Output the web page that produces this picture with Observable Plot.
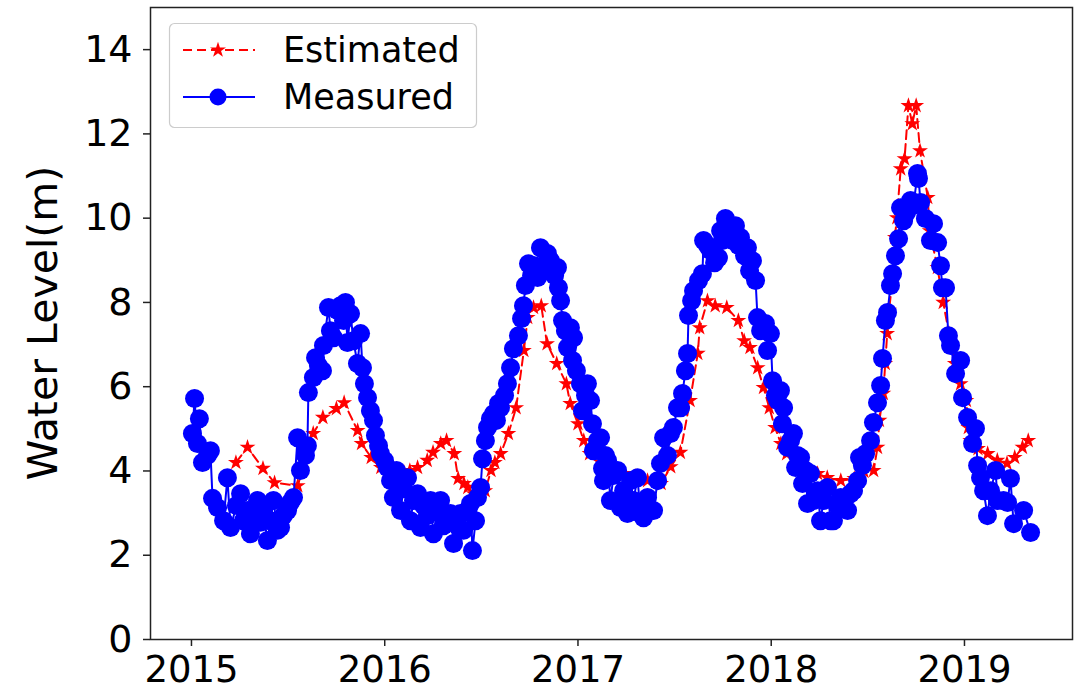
<!DOCTYPE html>
<html><head><meta charset="utf-8">
<script src="https://cdn.jsdelivr.net/npm/d3@7"></script>
<script src="https://cdn.jsdelivr.net/npm/@observablehq/plot@0.6"></script>
<style>html,body{margin:0;padding:0;background:#fff;}</style>
</head><body><div id="chart"></div>
<script>
const seriesNames = ["Estimated", "Measured"];
const yLabel = "Water Level(m)";
const xTicks = [2015, 2016, 2017, 2018, 2019];
const yTicks = [0, 2, 4, 6, 8, 10, 12, 14];

const estYears = [
2015.23,2015.29,2015.37,2015.43,2015.55,2015.63,2015.68,2015.75,2015.79,2015.86,
2015.88,2015.93,2015.98,2016.04,2016.10,2016.13,2016.17,2016.22,2016.25,2016.29,
2016.32,2016.36,2016.38,2016.41,2016.43,2016.46,2016.49,2016.52,2016.55,2016.57,
2016.60,2016.64,2016.68,2016.72,2016.74,2016.77,2016.81,2016.84,2016.89,2016.94,
2016.96,2017.00,2017.03,2017.06,2017.12,2017.17,2017.24,2017.30,2017.36,2017.43,
2017.48,2017.53,2017.58,2017.62,2017.63,2017.67,2017.71,2017.77,2017.83,2017.86,
2017.89,2017.93,2017.96,2017.99,2018.02,2018.05,2018.08,2018.15,2018.24,2018.29,
2018.36,2018.43,2018.48,2018.53,2018.55,2018.56,2018.58,2018.59,2018.60,2018.61,
2018.63,2018.64,2018.65,2018.67,2018.69,2018.71,2018.73,2018.75,2018.77,2018.81,
2018.82,2018.86,2018.89,2018.92,2018.95,2018.98,2019.01,2019.02,2019.03,2019.07,
2019.12,2019.17,2019.22,2019.26,2019.30,2019.33];
const estValues = [
4.20,4.56,4.06,3.72,3.65,4.89,5.27,5.48,5.62,4.96,
4.65,4.32,4.08,4.06,3.96,4.01,4.08,4.25,4.44,4.65,
4.72,4.41,3.82,3.70,3.61,3.46,3.46,3.53,4.01,4.20,
4.41,4.89,5.50,6.86,7.64,7.88,7.92,7.02,6.55,6.07,
5.60,5.12,4.72,4.41,4.20,4.01,3.94,3.87,3.77,3.70,
4.10,4.44,5.67,6.79,7.40,8.04,7.92,7.88,7.57,7.09,
6.93,6.45,5.98,5.50,5.03,4.65,4.41,4.18,3.94,3.84,
3.77,3.82,3.99,4.01,4.56,5.20,5.84,6.55,7.26,7.81,
8.68,9.54,10.01,11.17,11.41,12.67,12.24,12.67,11.60,10.49,
9.70,8.83,8.00,7.26,6.55,6.07,5.67,5.03,4.72,4.53,
4.41,4.25,4.18,4.32,4.56,4.72];

const measYears = [
2015.005,2015.016,2015.031,2015.041,2015.057,2015.083,2015.098,2015.109,2015.135,2015.166,
2015.186,2015.202,2015.233,2015.254,2015.269,2015.290,2015.305,2015.326,2015.342,2015.357,
2015.373,2015.393,2015.409,2015.424,2015.445,2015.461,2015.476,2015.497,2015.512,2015.528,
2015.549,2015.564,2015.590,2015.600,2015.605,2015.631,2015.642,2015.657,2015.678,2015.683,
2015.709,2015.719,2015.735,2015.756,2015.771,2015.787,2015.797,2015.807,2015.823,2015.838,
2015.859,2015.875,2015.885,2015.895,2015.911,2015.926,2015.942,2015.952,2015.968,2015.978,
2015.999,2016.014,2016.030,2016.045,2016.061,2016.082,2016.097,2016.118,2016.133,2016.149,
2016.170,2016.185,2016.201,2016.221,2016.237,2016.252,2016.273,2016.289,2016.304,2016.325,
2016.340,2016.356,2016.377,2016.392,2016.408,2016.428,2016.444,2016.454,2016.470,2016.480,
2016.496,2016.506,2016.521,2016.532,2016.547,2016.563,2016.578,2016.589,2016.599,2016.620,
2016.635,2016.651,2016.666,2016.692,2016.708,2016.718,2016.728,2016.744,2016.760,2016.775,
2016.791,2016.806,2016.822,2016.842,2016.858,2016.879,2016.894,2016.899,2016.910,2016.920,
2016.935,2016.946,2016.961,2016.972,2016.977,2016.992,2017.013,2017.023,2017.039,2017.049,
2017.065,2017.075,2017.080,2017.101,2017.117,2017.127,2017.132,2017.142,2017.153,2017.168,
2017.184,2017.205,2017.220,2017.236,2017.256,2017.272,2017.287,2017.308,2017.324,2017.339,
2017.360,2017.375,2017.391,2017.412,2017.427,2017.443,2017.463,2017.479,2017.494,2017.515,
2017.531,2017.541,2017.556,2017.567,2017.572,2017.588,2017.598,2017.624,2017.644,2017.650,
2017.670,2017.686,2017.707,2017.727,2017.738,2017.748,2017.763,2017.779,2017.800,2017.815,
2017.831,2017.841,2017.862,2017.877,2017.888,2017.903,2017.919,2017.929,2017.945,2017.970,
2017.981,2017.996,2018.007,2018.022,2018.033,2018.048,2018.058,2018.064,2018.084,2018.100,
2018.115,2018.126,2018.136,2018.152,2018.162,2018.178,2018.188,2018.203,2018.219,2018.240,
2018.255,2018.271,2018.291,2018.307,2018.322,2018.343,2018.359,2018.374,2018.395,2018.410,
2018.426,2018.447,2018.457,2018.472,2018.488,2018.514,2018.529,2018.550,2018.566,2018.576,
2018.591,2018.602,2018.617,2018.628,2018.643,2018.659,2018.669,2018.685,2018.700,2018.721,
2018.736,2018.757,2018.762,2018.773,2018.798,2018.824,2018.840,2018.861,2018.876,2018.886,
2018.902,2018.917,2018.928,2018.954,2018.980,2018.990,2019.016,2019.042,2019.057,2019.068,
2019.083,2019.099,2019.119,2019.135,2019.161,2019.171,2019.202,2019.223,2019.238,2019.254,
2019.306,2019.342];
const measValues = [
4.89,5.72,4.65,5.24,4.20,4.37,4.48,3.35,3.13,2.82,
3.84,2.66,3.18,3.46,2.82,3.06,2.51,2.94,3.30,2.78,
2.99,2.35,2.82,3.30,2.59,2.66,2.94,3.06,3.25,3.37,
4.79,4.01,4.37,4.60,5.86,6.22,6.69,6.50,6.38,6.98,
7.88,7.33,7.16,7.81,7.92,7.57,8.00,7.05,7.73,7.09,
6.55,7.26,6.45,6.07,5.74,5.43,5.20,4.84,4.60,4.41,
4.25,4.08,3.77,3.37,4.01,3.06,3.58,3.84,2.82,3.30,
3.46,2.66,3.18,2.94,3.30,2.51,3.06,3.30,2.70,2.82,
2.99,2.28,2.70,2.99,2.59,3.06,3.23,2.11,2.82,3.37,
3.61,4.29,4.72,5.03,5.24,5.36,5.20,5.60,5.50,5.79,
6.07,6.45,6.90,7.21,7.62,7.92,8.40,8.92,8.64,8.87,
8.59,9.30,8.75,9.16,8.99,8.64,8.83,8.35,8.04,7.57,
7.33,6.93,7.40,6.62,7.16,6.38,6.07,5.43,5.79,6.07,
5.67,5.12,4.48,4.72,4.79,4.06,3.77,4.37,4.25,3.30,
3.89,4.01,3.13,3.53,2.99,3.77,3.30,3.84,2.99,2.89,
3.37,3.06,3.06,3.77,4.18,4.79,4.37,4.89,5.03,5.50,
5.50,5.84,6.38,6.79,7.69,8.04,8.28,8.52,8.68,9.47,
9.35,9.23,8.94,9.06,9.70,9.47,9.99,9.70,9.47,9.82,
9.35,9.54,9.11,9.30,8.75,8.99,8.52,7.64,7.33,7.50,
6.86,7.26,6.14,5.79,5.67,5.91,5.12,5.50,4.56,4.72,
4.89,4.08,4.37,4.32,3.70,4.01,3.23,3.94,3.30,3.53,
2.82,3.30,3.61,2.82,2.82,3.18,3.37,3.13,3.06,3.46,
3.53,3.77,4.32,4.13,4.41,4.72,5.15,5.62,6.03,6.67,
7.57,7.76,8.40,8.68,9.11,9.51,10.25,9.94,10.13,10.42,
10.30,11.06,10.94,10.37,9.99,9.47,9.87,9.42,8.87,8.35,
8.35,7.21,6.98,6.31,6.62,5.74,5.27,4.65,5.01,4.13,
3.84,3.53,2.94,3.53,4.01,3.30,3.30,3.25,3.82,2.75,
3.06,2.54];

const seriesColors = ["#ff0000", "#0000ff"];

const est = estValues.slice(0, Math.min(estYears.length, estValues.length)).map((v, i) => ({t: estYears[i], v}));
const meas = measValues.slice(0, Math.min(measYears.length, measValues.length)).map((v, i) => ({t: measYears[i], v}));

const W = 1087, H = 692;
const chart = Plot.plot({
  width: W, height: H,
  marginLeft: 150, marginRight: 15, marginTop: 7, marginBottom: 53,
  style: {fontFamily: "'DejaVu Sans', sans-serif", fontSize: "38px", color: "#000", background: "#fff"},
  x: {type: "linear", domain: [2014.788, 2019.559]},
  y: {domain: [0, 15]},
  marks: [
    Plot.axisX({ticks: xTicks, tickFormat: d => String(d), tickSize: 7, tickPadding: 9, label: null, stroke: "#222", strokeWidth: 1.5, fill: "#000", fontSize: 37}),
    Plot.axisY({ticks: yTicks, tickFormat: d => String(d), tickSize: 7, tickPadding: 11, label: null, stroke: "#222", strokeWidth: 1.5, fill: "#000"}),
    Plot.line(est, {x: "t", y: "v", stroke: seriesColors[0], strokeWidth: 2, strokeDasharray: "9,5"}),
    Plot.dot(est, {x: "t", y: "v", symbol: "star", r: 5, fill: seriesColors[0], stroke: "none"}),
    Plot.line(meas, {x: "t", y: "v", stroke: seriesColors[1], strokeWidth: 2}),
    Plot.dot(meas, {x: "t", y: "v", r: 9.5, fill: seriesColors[1], stroke: "none"}),
    Plot.frame({stroke: "#222", strokeWidth: 1.5})
  ]
});

const svg = d3.select(chart);
// y label
svg.append("text")
  .attr("transform", "translate(57,323) rotate(-90)")
  .attr("text-anchor", "middle")
  .attr("fill", "#000")
  .style("font-size", "41px")
  .text(yLabel);

// legend
const lg = svg.append("g");
lg.append("rect").attr("x", 169.5).attr("y", 23.5).attr("width", 307).attr("height", 104).attr("rx", 5)
  .attr("fill", "#fff").attr("fill-opacity", 0.8).attr("stroke", "#cccccc").attr("stroke-width", 1.2);
seriesNames.forEach((name, i) => {
  const cy = 50 + i * 47;
  const g = lg.append("g");
  g.append("line").attr("x1", 183).attr("x2", 255).attr("y1", cy).attr("y2", cy)
    .attr("stroke", seriesColors[i]).attr("stroke-width", 2)
    .attr("stroke-dasharray", i === 0 ? "9,5" : null);
  if (i === 0) {
    g.append("path").attr("d", d3.symbol(d3.symbolStar, Math.PI * 5 * 5)())
      .attr("transform", `translate(218,${cy})`).attr("fill", seriesColors[i]);
  } else {
    g.append("circle").attr("cx", 218).attr("cy", cy).attr("r", 8.5).attr("fill", seriesColors[i]);
  }
  g.append("text").attr("x", 283).attr("y", cy + 12).attr("fill", "#000")
    .attr("text-anchor", "start")
    .style("font-size", "35px").text(name);
});

document.getElementById("chart").appendChild(chart);
</script>
</body></html>
